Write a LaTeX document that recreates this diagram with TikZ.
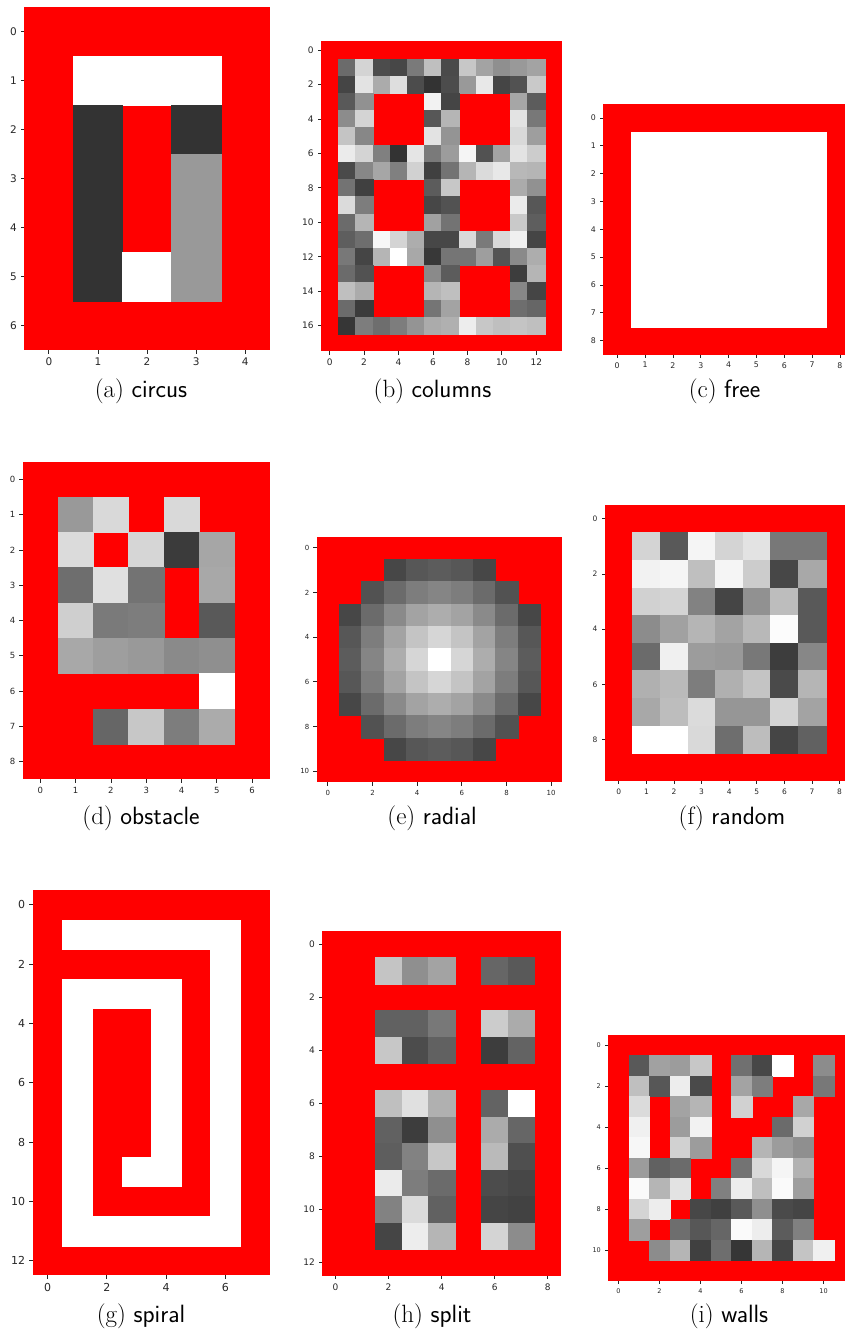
\documentclass[tikz,border=0pt]{standalone}
\usepackage{fontspec}
\newfontfamily\tickfont{DejaVu Sans}
\definecolor{wallred}{RGB}{255,0,0}

% interior cells of a map, one braced list per row, -1 = wall
\newcommand{\mapcells}[1]{%
  \foreach \line [count=\r] in {#1} {
    \foreach \v [count=\c] in \line {
      \ifnum\v<0 \else \fill[cell=\v] (\c,\r) rectangle ++(1,1); \fi
    }
  }
}
% ticks and tick labels: #1 rows, #2 x ticks, #3 y ticks, #4 font size, #5 name
\newcommand{\mapaxes}[5]{%
  \foreach \t in {#2}
    \draw[tickmark] (\t+0.5,#1) -- ++(0,-3.3pt) node[ticklbl=#4, below=4pt] (#5x\t) {\t};
  \foreach \t in {#3}
    \draw[tickmark] (0,\t+0.5) -- ++(-3.3pt,0) node[ticklbl=#4, left=3.8pt] (#5y\t) {\t};
}

\begin{document}
\begin{tikzpicture}[x=1pt, y=-1pt,
  wall/.style={fill=wallred},
  cell/.style={fill=white!#1!black, draw=white!#1!black, line width=0.3pt},
  tickmark/.style={line width=0.8pt, black!85},
  ticklbl/.style={font=\tickfont\fontsize{#1}{#1}\selectfont, inner sep=0pt, text=black!85},
  caption/.style={font=\fontsize{25}{25}\selectfont, anchor=base}]
\useasboundingbox (0,0) rectangle (845,1332);
\clip (0,0) rectangle (845,1332);

% (a) circus
\begin{scope}[shift={(24.3,6.7)}, x=49.1pt, y=-49.1pt]
  \fill[wall] (0,0) rectangle (5,7);
  \mapcells{{100,100,100},{20,-1,20},{20,-1,60},{20,-1,60},{20,100,60}}
  \mapaxes{7}{0,...,4}{0,...,6}{10.5}{a}
\end{scope}
\node[caption] (capA) at (141,397) {(a) \textsf{circus}};

% (b) columns
\begin{scope}[shift={(321,41.5)}, x=17.22pt, y=-17.22pt]
  \fill[wall] (0,0) rectangle (14,18);
  \mapcells{{42,83,30,28,48,75,29,78,64,56,60,64},
            {27,89,67,87,30,20,30,60,91,27,32,79},
            {35,57,-1,-1,-1,95,27,-1,-1,-1,65,36},
            {55,83,-1,-1,-1,34,71,-1,-1,-1,89,47},
            {77,53,-1,-1,-1,89,58,-1,-1,-1,85,62},
            {92,83,50,20,90,48,61,96,32,64,89,80},
            {29,53,65,50,82,25,45,71,86,91,72,71},
            {45,25,-1,-1,-1,36,78,-1,-1,-1,67,57},
            {86,49,-1,-1,-1,28,32,-1,-1,-1,92,34},
            {42,71,-1,-1,-1,63,45,-1,-1,-1,79,37},
            {37,43,97,83,68,28,28,85,48,85,94,27},
            {47,27,71,100,66,22,46,46,62,33,54,68},
            {42,32,-1,-1,-1,54,36,-1,-1,-1,24,71},
            {75,67,-1,-1,-1,71,75,-1,-1,-1,53,27},
            {42,23,-1,-1,-1,46,64,-1,-1,-1,43,40},
            {21,49,43,49,58,67,69,93,78,75,77,75}}
  \mapaxes{18}{0,2,...,12}{0,2,...,16}{9}{b}
\end{scope}
\node[caption] (capB) at (432.5,397) {(b) \textsf{columns}};

% (c) free
\begin{scope}[shift={(603.3,104)}, x=27.84pt, y=-27.84pt]
  \fill[wall] (0,0) rectangle (9,9);
  \fill[cell=100] (1,1) rectangle (8,8);
  \mapaxes{9}{0,...,8}{0,...,8}{7.8}{c}
\end{scope}
\node[caption] (capC) at (724.5,397) {(c) \textsf{free}};

% (d) obstacle
\begin{scope}[shift={(22.7,461.7)}, x=35.3pt, y=-35.3pt]
  \fill[wall] (0,0) rectangle (7,9);
  \mapcells{{60,85,-1,85,-1},{86,-1,84,23,65},{43,88,45,-1,66},{81,48,49,-1,35},
            {66,62,60,54,56},{-1,-1,-1,-1,100},{-1,40,78,49,67}}
  \mapaxes{9}{0,...,6}{0,...,8}{8.5}{d}
\end{scope}
\node[caption] (capD) at (141,824) {(d) \textsf{obstacle}};

% (e) radial
\begin{scope}[shift={(316.7,536.7)}, x=22.33pt, y=-22.33pt]
  \fill[wall] (0,0) rectangle (11,11);
  \foreach \r in {0,...,10} {
    \foreach \c in {0,...,10} {
      \pgfmathtruncatemacro\dd{(\r-5)*(\r-5)+(\c-5)*(\c-5)}
      \ifnum\dd<21
        \pgfmathtruncatemacro\g{100-16*sqrt(\dd)}
        \fill[cell=\g] (\c,\r) rectangle ++(1,1);
      \fi
    }
  }
  \mapaxes{11}{0,2,...,10}{0,2,...,10}{7}{e}
\end{scope}
\node[caption] (capE) at (432,824) {(e) \textsf{radial}};

% (f) random
\begin{scope}[shift={(605,505)}, x=27.6pt, y=-27.6pt]
  \fill[wall] (0,0) rectangle (9,10);
  \mapcells{{83,35,96,83,89,47,47},{95,96,75,96,80,28,66},{82,83,51,27,57,74,35},
            {55,63,71,64,72,99,35},{42,94,61,60,47,24,53},{69,73,49,69,77,29,71},
            {66,74,86,59,59,83,64},{100,100,85,43,74,27,38}}
  \mapaxes{10}{0,...,8}{0,2,...,8}{7.5}{f}
\end{scope}
\node[caption] (capF) at (732,824) {(f) \textsf{random}};

% (g) spiral
\begin{scope}[shift={(32.7,890)}, x=29.65pt, y=-29.65pt]
  \fill[wall] (0,0) rectangle (8,13);
  \mapcells{{100,100,100,100,100,100},{-1,-1,-1,-1,-1,100},{100,100,100,100,-1,100},
            {100,-1,-1,100,-1,100},{100,-1,-1,100,-1,100},{100,-1,-1,100,-1,100},
            {100,-1,-1,100,-1,100},{100,-1,-1,100,-1,100},{100,-1,100,100,-1,100},
            {100,-1,-1,-1,-1,100},{100,100,100,100,100,100}}
  \mapaxes{13}{0,2,...,6}{0,2,...,12}{11}{g}
\end{scope}
\node[caption] (capG) at (141,1322) {(g) \textsf{spiral}};

% (h) split
\begin{scope}[shift={(322.3,931)}, x=26.52pt, y=-26.52pt]
  \fill[wall] (0,0) rectangle (9,13);
  \mapcells{{-1,77,56,64,-1,40,35},{-1,-1,-1,-1,-1,-1,-1},{-1,38,38,47,-1,80,67},
            {-1,78,30,38,-1,24,39},{-1,-1,-1,-1,-1,-1,-1},{-1,75,88,69,-1,39,100},
            {-1,38,24,56,-1,67,40},{-1,37,51,78,-1,73,31},{-1,92,49,42,-1,30,28},
            {-1,51,86,38,-1,27,26},{-1,27,93,71,-1,83,55}}
  \mapaxes{13}{0,2,...,8}{0,2,...,12}{9}{h}
\end{scope}
\node[caption] (capH) at (432,1322) {(h) \textsf{split}};

% (i) walls
\begin{scope}[shift={(608.3,1035)}, x=20.5pt, y=-20.5pt]
  \fill[wall] (0,0) rectangle (12,12);
  \mapcells{{35,63,61,78,-1,44,28,100,-1,55},{75,34,93,29,-1,64,49,-1,-1,47},
            {86,-1,64,71,-1,82,-1,-1,66,-1},{94,-1,61,95,-1,-1,-1,42,82,-1},
            {97,-1,82,61,-1,-1,71,61,56,-1},{61,38,42,-1,-1,45,85,96,70,-1},
            {98,71,89,-1,50,93,75,98,62,-1},{83,93,-1,28,25,35,56,29,27,-1},
            {62,-1,43,34,40,98,93,36,50,-1},{-1,55,71,25,43,21,71,27,77,94}}
  \mapaxes{12}{0,2,...,10}{0,2,...,10}{6.5}{i}
\end{scope}
\node[caption] (capI) at (729,1322) {(i) \textsf{walls}};
\end{tikzpicture}
\end{document}
